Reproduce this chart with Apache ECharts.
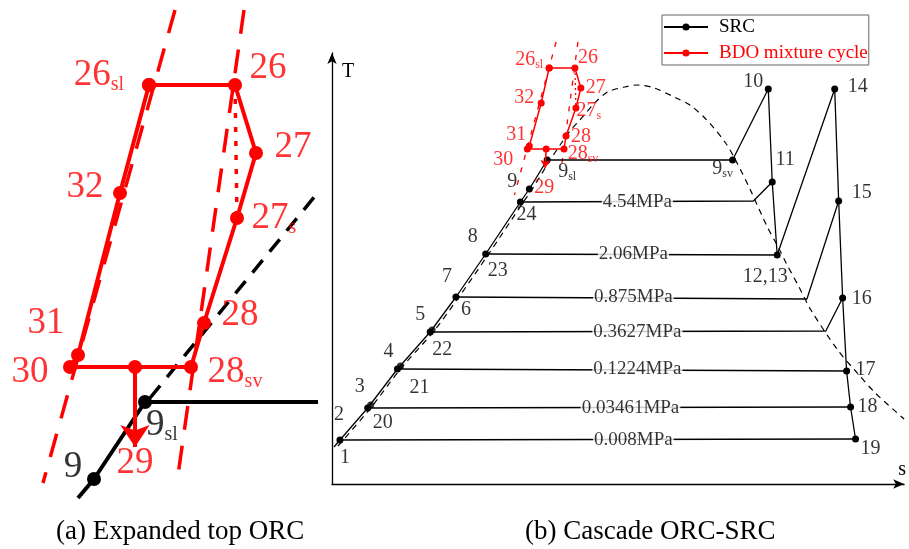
<!DOCTYPE html>
<html><head><meta charset="utf-8">
<script src="https://cdn.jsdelivr.net/npm/echarts@6/dist/echarts.min.js"></script>
<style>html,body{margin:0;padding:0;background:#fff}#c{width:909px;height:549px}</style>
</head><body><div id="c"></div>
<script>
// ================= DATA =================
// Panel (b): cascade ORC-SRC, schematic T-s coordinates (arbitrary units)
const srcNames = ['1','20','3','21','4','22','5','6','23','24','9','9sl','9sv','10','11','12,13','14','15','16','17','18','19'];
const srcS     = [8,  36,  39,  66,  69,  99, 101, 125, 155, 190, 199, 217, 404, 440, 444, 449, 507, 511, 515, 519, 523, 528];
const srcT     = [44, 76,  79, 115, 118, 152, 154, 187, 230, 282, 295, 324, 324, 395, 302, 229, 395, 283, 186, 113,  77,  45];
const srcLineStart = [2, 37];
const srcPath = ['1','20','21','22','6','23','24','9','9sl','9sv','10','11','12,13','14','15','16','17','18','19'];
const srcExtraDots = ['3','4','5'];

const pressureLabels = ['4.54MPa','2.06MPa','0.875MPa','0.3627MPa','0.1224MPa','0.03461MPa','0.008MPa'];
const pressureFrom   = ['24','23','6','22','21','20','1'];
const pressureTo     = ['11','12,13','15','16','17','18','19'];
const pressureKneeS  = [425, null, 479, 498, null, null, null];
const pressureKneeT  = [283, null, 185, 153, null, null, null];
const pressureLabelS = [308, 304, 304, 308, 308, 301, 304];

const domeS = [6,39,69,102,128,158,193,202,220,230,240,250,265,278,295,308,325,345,361,378,397,407,422,439,450,458,471,483,510,528,548,577];
const domeT = [38,76,115,152,187,230,282,295,324,339,353,364,381,392,397,399,396,387,379,364,341,324,294,257,237,221,197,174,134,113,91,65];

const bdoNames = ['26sl','26','27','27s','28','28sv','mid','30','31','32'];
const bdoLoop  = ['26sl','26','27','27s','28','28sv','mid','30','31','32','26sl'];
const bdoSb = [219,245,251,246,236,234,216,197,199,211];
const bdoTb = [416,416,396,376,348,335,335,335,338,381];
const bdo29b = [215, 316];
const bdoSatLeftB  = [[226,442],[184,289]];
const bdoSatRightB = [[248,442],[231,314]];

// Panel (a): expanded top ORC (zoomed schematic units)
const bdoSa = [149,235,256,237,204,191,135,70,78,120];
const bdoTa = [415,415,347,282,177,133,133,133,145,307];
const bdo29a = [135, 53];
const srcANames = ['9','9sl'];
const srcAS = [94,145];
const srcAT = [21,98];
const srcALineStart = [78, 2];
const srcALineEnd = [318, 98];
const domeA = [[150,102],[320,310]];
const bdoSatLeftA  = [[175,490],[43,17]];
const bdoSatRightA = [[244,490],[177,18]];

// label texts and the state they sit next to
const labelsSrcB = [['1','1'],['2','1'],['20','20'],['3','20'],['21','21'],['4','21'],['22','22'],['5','22'],
  ['6','6'],['7','6'],['23','23'],['8','23'],['24','24'],['9','9'],['9sl','9sl'],['9sv','9sv'],['10','10'],
  ['11','11'],['12,13','12,13'],['14','14'],['15','15'],['16','16'],['17','17'],['18','18'],['19','19']];
const labelsBdoB = [['26sl','26sl'],['26','26'],['27','27'],['27s','27s'],['32','32'],['31','31'],['30','30'],['28','28'],['28sv','28sv']];
const labelsBdoA = labelsBdoB;
const captions = ['(a) Expanded top ORC', '(b) Cascade ORC-SRC'];

// ================= LAYOUT (label offsets in px) =================
const offSrcB = {'1':[5,18],'2':[-1,-25],'20':[15,15],'3':[-8,-21],'21':[22,19],'4':[-9,-17],'22':[12,18],'5':[-10,-17],
  '6':[10,13],'7':[-9,-20],'23':[12,17],'8':[-13,-17],'24':[6,13],'9':[-17,-7],'9sl':[20,12],'9sv':[-10,9],'10':[-15,-7],
  '11':[13,-22],'12,13':[-12,22],'14':[23,-2],'15':[23,-8],'16':[19,1],'17':[19,-1],'18':[17,0],'19':[15,10]};
const offBdoB = {'26sl':[-20,-8],'26':[13,-10],'27':[15,0],'27s':[13,3],'32':[-17,-5],'31':[-13,-11],'30':[-24,11],'28':[15,1],'28sv':[19,5]};
const offBdoA = {'26sl':[-50,-10],'26':[33,-17],'27':[37,-6],'27s':[37,0],'32':[-35,-6],'31':[-32,-32],'30':[-40,5],'28':[36,-8],'28sv':[44,5]};
const offSrcA = {'9':[-21,-12],'9sl':[17,23]};

// ================= BUILD =================
const FONT = 'Liberation Serif';
const RED = '#ff0000';
const srcB = n => { const i = srcNames.indexOf(n); return [srcS[i], srcT[i]]; };
const bdoB = n => { const i = bdoNames.indexOf(n); return [bdoSb[i], bdoTb[i]]; };
const bdoA = n => { const i = bdoNames.indexOf(n); return [bdoSa[i], bdoTa[i]]; };
const srcA = n => { const i = srcANames.indexOf(n); return [srcAS[i], srcAT[i]]; };

function richText(name){
  const m = name.match(/^(\d+)(sl|sv|s)$/);
  return m ? '{m|' + m[1] + '}{s|' + m[2] + '}' : '{m|' + name + '}';
}
function labelSeries(list, coordOf, offsets, gi, color, big, small){
  return {
    type:'scatter', xAxisIndex:gi, yAxisIndex:gi, symbolSize:0, silent:true, z:8,
    data: list.map(([t,a]) => ({name:t, value:coordOf(a), label:{offset:offsets[t]}})),
    label:{show:true, position:'inside', align:'center', verticalAlign:'middle',
      formatter: p => richText(p.name),
      rich:{ m:{fontFamily:FONT, fontSize:big, color:color, lineHeight:big+2},
             s:{fontFamily:FONT, fontSize:small, color:color, lineHeight:small, verticalAlign:'bottom'} } }
  };
}
function plainLine(gi, data, color, width, type, extra){
  return Object.assign({type:'line', xAxisIndex:gi, yAxisIndex:gi, data:data, symbol:'none', silent:true,
    lineStyle:{color:color, width:width, type:type||'solid'}, itemStyle:{color:color}, animation:false}, extra||{});
}

const series = [];
// ---- panel (b) ----
series.push({
  name:'SRC', type:'line', xAxisIndex:1, yAxisIndex:1, symbol:'circle', symbolSize:7, z:5,
  data:[{value:srcLineStart, symbol:'none'}].concat(srcPath.map(n => ({value:srcB(n)}))),
  lineStyle:{color:'#000', width:1.3}, itemStyle:{color:'#000'}
});
series.push({type:'scatter', xAxisIndex:1, yAxisIndex:1, symbolSize:7, z:5, itemStyle:{color:'#000'},
  data: srcExtraDots.map(srcB)});
pressureLabels.forEach((lab,i) => {
  const pts = [srcB(pressureFrom[i])];
  if (pressureKneeS[i] !== null) pts.push([pressureKneeS[i], pressureKneeT[i]]);
  pts.push(srcB(pressureTo[i]));
  series.push(plainLine(1, pts, '#000', 1.3));
});
series.push({type:'scatter', xAxisIndex:1, yAxisIndex:1, symbolSize:0, silent:true, z:9,
  data: pressureLabels.map((lab,i) => ({name:lab, value:[pressureLabelS[i], srcB(pressureFrom[i])[1]]})),
  label:{show:true, position:'inside', formatter:p=>p.name, fontFamily:FONT, fontSize:19, color:'#000',
    backgroundColor:'#fff', padding:[0,1]}});
series.push(plainLine(1, domeS.map((s,i)=>[s,domeT[i]]), '#000', 1.2, [6,5], {smooth:0.3, clip:false}));
series.push({
  name:'BDO mixture cycle', type:'line', xAxisIndex:1, yAxisIndex:1, symbol:'circle', symbolSize:7, z:6,
  data: bdoLoop.map(bdoB), lineStyle:{color:RED, width:1.5}, itemStyle:{color:RED}
});
series.push(plainLine(1, bdoSatLeftB, RED, 1.3, [5,8], {clip:false}));
series.push(plainLine(1, bdoSatRightB, RED, 1.3, [5,8], {clip:false}));
series.push(plainLine(1, [bdoB('26'), bdoB('27s')], RED, 1.3, [2,3]));
series.push({type:'lines', coordinateSystem:'cartesian2d', xAxisIndex:1, yAxisIndex:1, symbol:['none','arrow'], symbolSize:8,
  lineStyle:{color:RED, width:1.5, curveness:0, opacity:1}, itemStyle:{color:RED, opacity:1},
  data:[{coords:[bdoB('mid'), bdo29b]}], silent:true, z:6});
series.push(labelSeries(labelsSrcB, srcB, offSrcB, 1, '#000', 20, 12));
series.push(labelSeries(labelsBdoB, bdoB, offBdoB, 1, RED, 20, 12));
series.push(labelSeries([['29','29']], ()=>bdo29b, {'29':[-1,20]}, 1, RED, 20, 12));

// ---- panel (a) ----
series.push(plainLine(0, domeA, '#000', 3.5, [16,11]));
series.push(plainLine(0, bdoSatLeftA, RED, 3.5, [24,16], {clip:false}));
series.push(plainLine(0, bdoSatRightA, RED, 3.5, [24,16], {clip:false}));
series.push(plainLine(0, [bdoA('26'), bdoA('27s')], RED, 3.5, [5,9]));
series.push({type:'line', xAxisIndex:0, yAxisIndex:0, symbol:'circle', symbolSize:14, z:5,
  data:[{value:srcALineStart, symbol:'none'}, {value:srcA('9')}, {value:srcA('9sl')}, {value:srcALineEnd, symbol:'none'}],
  lineStyle:{color:'#000', width:4}, itemStyle:{color:'#000'}});
series.push({type:'line', xAxisIndex:0, yAxisIndex:0, symbol:'circle', symbolSize:14, z:6,
  data: bdoLoop.map(bdoA), lineStyle:{color:RED, width:4}, itemStyle:{color:RED}});
series.push({type:'lines', coordinateSystem:'cartesian2d', xAxisIndex:0, yAxisIndex:0, symbol:['none','arrow'], symbolSize:22,
  lineStyle:{color:RED, width:4, curveness:0, opacity:1}, itemStyle:{color:RED, opacity:1},
  data:[{coords:[bdoA('mid'), bdo29a]}], silent:true, z:6});
series.push(labelSeries(labelsBdoA, bdoA, offBdoA, 0, RED, 37, 20));
series.push(labelSeries([['9','9'],['9sl','9sl']], srcA, offSrcA, 0, '#000', 37, 20));
series.push(labelSeries([['29','29']], ()=>bdo29a, {'29':[0,16]}, 0, RED, 37, 20));

const hiddenAxis = (gi, max) => ({type:'value', gridIndex:gi, min:0, max:max, show:false});
const option = {
  animation:false,
  backgroundColor:'#fff',
  title: [
    {text:captions[0], left:56, top:518, padding:0, textStyle:{fontFamily:FONT, fontSize:27, fontWeight:'normal', color:'#000'}},
    {text:captions[1], left:525, top:518, padding:0, textStyle:{fontFamily:FONT, fontSize:27, fontWeight:'normal', color:'#000'}}
  ],
  legend:{
    data:[{name:'SRC', textStyle:{color:'#000'}}, {name:'BDO mixture cycle', textStyle:{color:RED}}],
    orient:'vertical', left:662, top:15, padding:[2,1,2,1], itemWidth:44, itemHeight:9, itemGap:6,
    borderColor:'#666', borderWidth:1, selectedMode:false,
    textStyle:{fontFamily:FONT, fontSize:19, lineHeight:20, padding:[0,0,0,6]}
  },
  grid:[
    {left:0, top:0, width:330, height:500},
    {left:332, top:53, width:577, height:431}
  ],
  xAxis:[
    hiddenAxis(0, 330),
    {type:'value', gridIndex:1, min:0, max:577, name:'s', nameLocation:'end', nameGap:-2,
      nameTextStyle:{fontFamily:FONT, fontSize:20, color:'#000', align:'center', verticalAlign:'bottom', padding:[0,0,4,0]},
      axisLine:{show:true, symbol:['none','arrow'], symbolSize:[7,11], lineStyle:{color:'#000', width:1.3}},
      axisTick:{show:false}, axisLabel:{show:false}, splitLine:{show:false}}
  ],
  yAxis:[
    hiddenAxis(0, 500),
    {type:'value', gridIndex:1, min:0, max:431, name:'T', nameLocation:'end', nameGap:-19,
      nameTextStyle:{fontFamily:FONT, fontSize:20, color:'#000', align:'left', verticalAlign:'middle', padding:[0,0,0,10]},
      axisLine:{show:true, symbol:['none','arrow'], symbolSize:[7,11], lineStyle:{color:'#000', width:1.3}},
      axisTick:{show:false}, axisLabel:{show:false}, splitLine:{show:false}}
  ],
  series: series
};
const chart = echarts.init(document.getElementById('c'), null, {renderer:'canvas'});
chart.setOption(option);
</script>
</body></html>
